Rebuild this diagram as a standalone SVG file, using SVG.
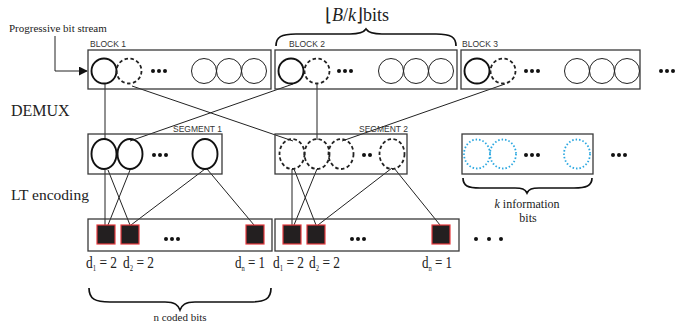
<svg xmlns="http://www.w3.org/2000/svg" width="699" height="327" viewBox="0 0 699 327">
  <style>
    .frame { fill: none; stroke: #3a3a3a; stroke-width: 1.3; }
    .bold { fill: none; stroke: #111; stroke-width: 1.9; }
    .thin { fill: none; stroke: #222; stroke-width: 1; }
    .dash { fill: none; stroke: #222; stroke-width: 1.8; stroke-dasharray: 3.5 2.5; }
    .blue { fill: none; stroke: #2aa7e0; stroke-width: 1.8; stroke-dasharray: 1.5 2; }
    .sq { fill: #231f20; stroke: #e63a3f; stroke-width: 1.2; }
    .dot { fill: #111; }
    .link { fill: none; stroke: #222; stroke-width: 1; }
    .brace { fill: none; stroke: #111; stroke-width: 1.7; }
    .lbl { font-family: "Liberation Sans", Arial, sans-serif; font-size: 8.5px; fill: #333; }
    .serif { font-family: "Liberation Serif", "Times New Roman", serif; fill: #222; }
    .deg { font-family: "Liberation Serif", "Times New Roman", serif; font-size: 16px; fill: #222; }
  </style>
  <defs>
    <g id="dots3">
      <circle cx="-6" cy="0" r="2" class="dot"/>
      <circle cx="0" cy="0" r="2" class="dot"/>
      <circle cx="6" cy="0" r="2" class="dot"/>
    </g>
    <marker id="arrow" viewBox="0 0 10 10" refX="9" refY="5" markerWidth="9" markerHeight="9" markerUnits="userSpaceOnUse" orient="auto">
      <path d="M0,0 L10,5 L0,10 z" fill="#111"/>
    </marker>
  </defs>

  <!-- side captions -->
  <text class="serif" x="9" y="32" font-size="11">Progressive bit stream</text>
  <text class="serif" x="11" y="116" font-size="16">DEMUX</text>
  <text class="serif" x="11" y="200" font-size="15.5">LT encoding</text>

  <!-- connectors -->
  <g id="connectors">
    <polyline class="link" points="55,36 55,71 87,71" marker-end="url(#arrow)"/>
    <!-- blocks to segments -->
    <line class="link" x1="105" y1="84" x2="105" y2="139"/>
    <line class="link" x1="132" y1="86" x2="293" y2="141"/>
    <line class="link" x1="293" y1="84" x2="130" y2="141"/>
    <line class="link" x1="317" y1="84" x2="317" y2="140"/>
    <line class="link" x1="505" y1="84" x2="342" y2="141"/>
    <!-- segment 1 to coded bits -->
    <line class="link" x1="105" y1="170" x2="105" y2="225"/>
    <line class="link" x1="108" y1="170" x2="130" y2="225"/>
    <line class="link" x1="130" y1="170" x2="108" y2="225"/>
    <line class="link" x1="205" y1="169" x2="131" y2="225"/>
    <line class="link" x1="207" y1="169" x2="254" y2="225"/>
    <!-- segment 2 to coded bits -->
    <line class="link" x1="292" y1="169" x2="292" y2="225"/>
    <line class="link" x1="294" y1="169" x2="316" y2="225"/>
    <line class="link" x1="317" y1="169" x2="294" y2="225"/>
    <line class="link" x1="392" y1="168" x2="318" y2="225"/>
    <line class="link" x1="394" y1="168" x2="440" y2="225"/>
  </g>

  <!-- bit stream blocks -->
  <g id="block1">
    <text class="lbl" x="90" y="47">BLOCK 1</text>
    <rect class="frame" x="88" y="50" width="183" height="39"/>
    <circle class="bold" cx="104" cy="71" r="12.5"/>
    <circle class="dash" cx="129" cy="71" r="12.5"/>
    <use href="#dots3" x="159" y="71"/>
    <circle class="thin" cx="204" cy="71" r="12.5"/>
    <circle class="thin" cx="229" cy="71" r="12.5"/>
    <circle class="thin" cx="254" cy="71" r="12.5"/>
  </g>
  <g id="block2">
    <text class="lbl" x="289" y="47">BLOCK 2</text>
    <rect class="frame" x="275" y="50" width="182" height="39"/>
    <circle class="bold" cx="291" cy="71" r="12.5"/>
    <circle class="dash" cx="317" cy="71" r="12.5"/>
    <use href="#dots3" x="345" y="71"/>
    <circle class="thin" cx="391" cy="71" r="12.5"/>
    <circle class="thin" cx="416" cy="71" r="12.5"/>
    <circle class="thin" cx="441" cy="71" r="12.5"/>
  </g>
  <g id="block3">
    <text class="lbl" x="462" y="47">BLOCK 3</text>
    <rect class="frame" x="461" y="50" width="179" height="39"/>
    <circle class="bold" cx="477" cy="71" r="12.5"/>
    <circle class="dash" cx="503" cy="71" r="12.5"/>
    <use href="#dots3" x="532" y="71"/>
    <circle class="thin" cx="577" cy="71" r="12.5"/>
    <circle class="thin" cx="602" cy="71" r="12.5"/>
    <circle class="thin" cx="627" cy="71" r="12.5"/>
  </g>
  <use href="#dots3" x="667" y="71"/>

  <!-- block size brace -->
  <g id="block-size">
    <path class="brace" d="M276,46 C276,37 281,34 296,34 L350,34 C360,34 364,32 366,29 C368,32 372,34 382,34 L436,34 C451,34 456,37 456,46"/>
    <text class="serif" x="325" y="21" font-size="18">⌊<tspan font-style="italic">B</tspan>/<tspan font-style="italic">k</tspan>⌋bits</text>
  </g>

  <!-- segments -->
  <g id="segment1">
    <rect class="frame" x="88" y="134" width="134" height="40"/>
    <text class="lbl" x="222" y="132" text-anchor="end">SEGMENT 1</text>
    <ellipse class="bold" cx="104" cy="154" rx="12.5" ry="15"/>
    <ellipse class="bold" cx="130" cy="154" rx="12.5" ry="15"/>
    <use href="#dots3" x="160" y="155"/>
    <ellipse class="bold" cx="205" cy="154" rx="12.5" ry="15"/>
  </g>
  <g id="segment2">
    <rect class="frame" x="275" y="134" width="132" height="40"/>
    <text class="lbl" x="408" y="132" text-anchor="end">SEGMENT 2</text>
    <ellipse class="dash" cx="292" cy="154" rx="12.5" ry="15"/>
    <ellipse class="dash" cx="317" cy="154" rx="12.5" ry="15"/>
    <ellipse class="dash" cx="341" cy="154" rx="12.5" ry="15"/>
    <circle cx="364" cy="155" r="2" class="dot"/>
    <circle cx="370" cy="155" r="2" class="dot"/>
    <ellipse class="dash" cx="392" cy="154" rx="12.5" ry="15"/>
  </g>
  <g id="segment-k">
    <rect class="frame" x="462" y="134" width="131" height="40"/>
    <ellipse class="blue" cx="477" cy="154" rx="13" ry="14.5"/>
    <ellipse class="blue" cx="503" cy="154" rx="13" ry="14.5"/>
    <use href="#dots3" x="532" y="155"/>
    <ellipse class="blue" cx="577" cy="154" rx="13" ry="14.5"/>
    <path class="brace" d="M463,178 C463,186 468,188 480,188 L515,188 C522,188 525,189 527,193 C529,189 532,188 539,188 L574,188 C586,188 592,186 592,178"/>
    <text class="serif" x="527" y="208" font-size="12" text-anchor="middle"><tspan font-style="italic">k</tspan> information</text>
    <text class="serif" x="528" y="222" font-size="12" text-anchor="middle">bits</text>
  </g>
  <use href="#dots3" x="619" y="155"/>

  <!-- coded bits -->
  <g id="coded1">
    <rect class="frame" x="88" y="219" width="184" height="32"/>
    <rect class="sq" x="97" y="225" width="18" height="19"/>
    <rect class="sq" x="121" y="225" width="18" height="19"/>
    <use href="#dots3" x="172" y="239"/>
    <rect class="sq" x="246" y="225" width="18" height="19"/>
    <text class="deg" x="86" y="268" textLength="31" lengthAdjust="spacingAndGlyphs">d<tspan font-size="8" dy="3">1</tspan><tspan dy="-3"> = 2</tspan></text>
    <text class="deg" x="123" y="268" textLength="31" lengthAdjust="spacingAndGlyphs">d<tspan font-size="8" dy="3">2</tspan><tspan dy="-3"> = 2</tspan></text>
    <text class="deg" x="235" y="268" textLength="30" lengthAdjust="spacingAndGlyphs">d<tspan font-size="8" dy="3">n</tspan><tspan dy="-3"> = 1</tspan></text>
  </g>
  <g id="coded2">
    <rect class="frame" x="275" y="219" width="184" height="32"/>
    <rect class="sq" x="283" y="225" width="18" height="19"/>
    <rect class="sq" x="307" y="225" width="18" height="19"/>
    <use href="#dots3" x="358" y="239"/>
    <rect class="sq" x="432" y="225" width="18" height="19"/>
    <text class="deg" x="273" y="268" textLength="31" lengthAdjust="spacingAndGlyphs">d<tspan font-size="8" dy="3">1</tspan><tspan dy="-3"> = 2</tspan></text>
    <text class="deg" x="309" y="268" textLength="31" lengthAdjust="spacingAndGlyphs">d<tspan font-size="8" dy="3">2</tspan><tspan dy="-3"> = 2</tspan></text>
    <text class="deg" x="422" y="268" textLength="30" lengthAdjust="spacingAndGlyphs">d<tspan font-size="8" dy="3">n</tspan><tspan dy="-3"> = 1</tspan></text>
  </g>
  <circle cx="476" cy="239" r="2" class="dot"/>
  <circle cx="489" cy="239" r="2" class="dot"/>
  <circle cx="501" cy="239" r="2" class="dot"/>

  <!-- coded length brace -->
  <g id="coded-size">
    <path class="brace" d="M89,288 C89,299 95,302 110,302 L165,302 C175,302 178,305 180,310 C182,305 185,302 195,302 L250,302 C265,302 271,299 271,288"/>
    <text class="serif" x="180" y="321" font-size="11" text-anchor="middle">n coded bits</text>
  </g>
</svg>
